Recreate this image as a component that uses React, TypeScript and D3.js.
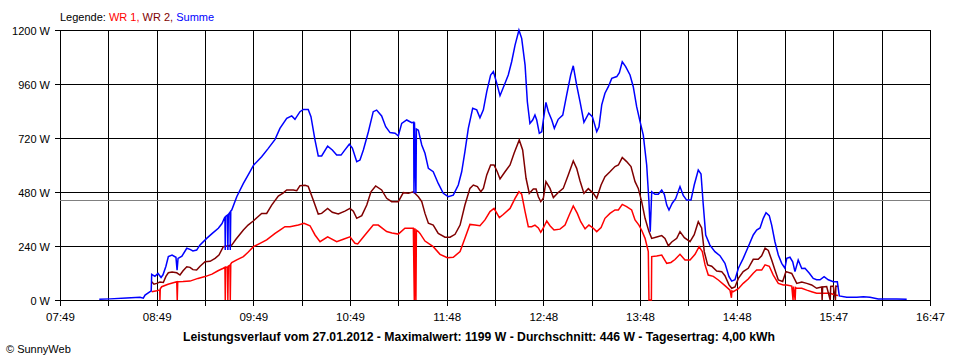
import React from 'react';
import * as d3 from 'd3';

// time in minutes since midnight, value in W
const START_MIN = 469; // 07:49
const END_MIN = 1007; // 16:47
const GRID_DIVISIONS = 18;
const xTickLabels = ['07:49', '08:49', '09:49', '10:49', '11:48', '12:48', '13:48', '14:48', '15:47', '16:47'];
const yTicks = [0, 240, 480, 720, 960, 1200];
const averageW = 446;
const titleText = 'Leistungsverlauf vom 27.01.2012 - Maximalwert: 1199 W - Durchschnitt: 446 W - Tagesertrag: 4,00 kWh';

const summe: [number, number][] = [
  [493.3, 3], [499.9, 5], [510.2, 9], [518.5, 12], [520.5, 8], [521.6, 22], [524.7, 37], [525.4, 40],
  [525.7, 114], [527.7, 105], [529.6, 118], [531.5, 100], [532.7, 112], [534.5, 150], [536, 193],
  [538.3, 200], [540.7, 190], [541.4, 133], [542, 185], [544.4, 195], [547.4, 230], [549.4, 225],
  [551.2, 218], [553.5, 222], [555.6, 245], [559.7, 274], [563, 295], [566.9, 319], [569.2, 340],
  [571, 370], [571.2, 222], [571.5, 372], [572.6, 378], [572.8, 222], [573.1, 380], [574.1, 390],
  [574.3, 222], [574.6, 395], [575.2, 400], [578.3, 459], [582.4, 518], [585.3, 555], [588.8, 600],
  [593.7, 637], [597.8, 674], [602, 714], [605, 763], [609.2, 807], [612.3, 818], [614.3, 803],
  [617.4, 837], [619.5, 847], [622.5, 847], [624.2, 815], [626.7, 711], [628.7, 640], [630.8, 640],
  [634.5, 684], [637.4, 667], [640.1, 644], [642.8, 644], [645.2, 667], [647.9, 692], [649.8, 675],
  [652.5, 615], [654.5, 622], [656.6, 667], [659.7, 748], [662.7, 837], [664.8, 844], [667.9, 818],
  [670.4, 770], [673.1, 744], [676.2, 741], [678.2, 729], [680.3, 785], [683.4, 800], [686.5, 788],
  [687.7, 790], [687.9, 474], [688.2, 790], [689.1, 474], [689.4, 760], [690.6, 755], [692.7, 689],
  [694.7, 652], [696.8, 585], [699.8, 570], [702.9, 518], [706, 474], [709.1, 459], [712.2, 466],
  [715.3, 511], [717.4, 570], [719.4, 659], [721.5, 763], [724.2, 852], [726.7, 845], [728.7, 810],
  [730.8, 845], [732.9, 926], [735.3, 1000], [737, 1015], [739.1, 963], [741.1, 908], [744.2, 963],
  [746.2, 1000], [748.3, 1059], [750.4, 1133], [752.8, 1199], [754.5, 1163], [756.6, 1044], [758, 881],
  [759.6, 785], [761.3, 800], [762.7, 822], [763.8, 800], [765.4, 741], [766.9, 748], [767.9, 800],
  [769.5, 878], [771, 837], [773.1, 800], [774.7, 763], [777.1, 803], [779.9, 822], [782.3, 911],
  [784.8, 1000], [786.4, 1041], [788.5, 955], [790.6, 881], [793, 790], [796, 830], [798.2, 815],
  [800.9, 748], [802.3, 770], [804, 867], [806, 919], [808.1, 948], [810.2, 985], [813.3, 993],
  [814.9, 1010], [816.7, 1059], [818.8, 1037], [821.5, 1000], [823.5, 948], [825.6, 859], [827.7, 793],
  [829.7, 733], [831.8, 600], [833.2, 437], [834, 304], [834.9, 481], [836.9, 470], [839, 470],
  [841.1, 489], [842.7, 470], [844.2, 422], [845.6, 400], [847.6, 430], [849.7, 450], [852.4, 504],
  [854.4, 465], [856.5, 444], [859.2, 444], [861.2, 511], [863.7, 578], [865.4, 560], [866.8, 422],
  [868.3, 289], [870.9, 244], [874, 215], [877.1, 197], [880.2, 163], [882.7, 104], [884.4, 84],
  [886.4, 90], [888.5, 141], [891.5, 185], [894.6, 237], [897.7, 289], [899.8, 311], [901.9, 320],
  [903.9, 363], [905.6, 388], [907.6, 375], [909.1, 333], [911.1, 259], [913.2, 200], [915.3, 163],
  [917.3, 141], [918.4, 185], [920.4, 190], [922.1, 170], [923.5, 126], [925.5, 178], [927.7, 140],
  [929.7, 141], [932.4, 119], [934.8, 96], [936.9, 90], [939, 90], [941.5, 104], [944.1, 90],
  [947.2, 81], [949.7, 81], [950.9, 18], [955.5, 12], [961.7, 12], [965.8, 14], [969.9, 12],
  [975, 4], [986.4, 4], [992.6, 3],
];

const wr2: [number, number][] = [
  [525.7, 81], [527.1, 70], [528.8, 74], [530.8, 80], [532.9, 78], [534.5, 105], [536, 121],
  [538.3, 124], [541.2, 121], [543.2, 111], [545.1, 130], [547.4, 148], [549.4, 145], [551.2, 135],
  [553.5, 133], [555.6, 150], [558.7, 170], [561.8, 172], [564.9, 185], [567.3, 200], [570, 237],
  [572.3, 240], [575.2, 244], [577.8, 270], [582.4, 311], [585.3, 333], [588.5, 351], [591.4, 370],
  [593.7, 385], [596.8, 385], [599.9, 422], [604, 462], [606.9, 475], [609.2, 489], [613.3, 489],
  [615.4, 486], [617.4, 508], [620.5, 510], [622.5, 505], [625.6, 444], [628.7, 382], [630.8, 385],
  [634.5, 407], [637.4, 390], [641.1, 382], [645.2, 395], [648.3, 407], [650.4, 395], [652.5, 363],
  [655.6, 375], [658.7, 422], [661.3, 481], [664.2, 507], [667.9, 489], [671, 452], [674.1, 437],
  [678.2, 437], [681.3, 477], [684.4, 474], [687.5, 481], [690.6, 459], [692.7, 437], [694.7, 385],
  [696.8, 341], [699.8, 333], [702.9, 296], [707.1, 279], [710.2, 279], [713.3, 292], [716.4, 333],
  [719.4, 422], [722.5, 496], [724.6, 511], [727.1, 504], [729.2, 481], [730.8, 496], [732.9, 556],
  [735.3, 600], [737.4, 600], [739.4, 570], [741.1, 538], [744.2, 570], [747.3, 600], [749.8, 652],
  [753, 711], [755.1, 667], [757.2, 541], [759.2, 474], [761.7, 493], [763.4, 493], [764.8, 459],
  [766.3, 437], [767.9, 452], [769.5, 526], [772, 496], [774.1, 455], [777.1, 478], [780.2, 496],
  [783.3, 556], [786.4, 618], [788.5, 585], [790.6, 529], [793, 474], [795.7, 495], [798.8, 474],
  [800.9, 452], [803.6, 511], [806, 548], [809.1, 570], [812.2, 593], [814.3, 600], [816.7, 633],
  [819.4, 615], [822.1, 593], [824.6, 526], [826.6, 496], [828.7, 437], [830.8, 363], [833.2, 304],
  [834.9, 274], [838, 280], [841.1, 286], [843.1, 274], [845.2, 241], [847.3, 258], [850.4, 274],
  [852.4, 304], [855.1, 277], [858.6, 259], [861.2, 290], [863.7, 348], [865.8, 320], [867.4, 215],
  [869.5, 156], [872, 150], [875.1, 129], [878.2, 126], [880.2, 108], [882.7, 67], [884.4, 52],
  [886.4, 58], [888.5, 96], [891.5, 126], [894.6, 141], [897.7, 181], [900.8, 181], [902.9, 196],
  [905, 230], [907, 220], [909.1, 178], [911.1, 133], [913.2, 89], [915.9, 82], [917.9, 126],
  [921.5, 118], [924.6, 74], [927.7, 80], [930.8, 74], [933.8, 67], [936.9, 52], [940, 58],
  [940.3, 0], [940.6, 58], [943.1, 60], [945.3, 0], [945.6, 60], [947.2, 62], [948.5, 0], [948.8, 62],
  [950.3, 60],
];

const wr1: [number, number][] = [
  [525.7, 37], [528.8, 41], [530.7, 45], [530.8, 0], [531, 50], [531.9, 59], [535.8, 70], [541.2, 81],
  [541.5, 0], [541.8, 81], [545.1, 82], [549.4, 84], [554.3, 96], [558.7, 104], [563, 115], [566.7, 130],
  [570, 141], [571, 145], [571.2, 0], [571.5, 145], [572.6, 147], [572.8, 0], [573.1, 150], [574.1, 155],
  [574.3, 0], [574.6, 160], [575.2, 166], [578.3, 178], [582.4, 193], [585.3, 212], [588.6, 237],
  [592.7, 252], [596.8, 267], [602, 296], [605, 311], [608.1, 326], [611.2, 326], [616.4, 333],
  [619.9, 341], [623.6, 330], [626.7, 289], [629.8, 259], [634.5, 281], [640.1, 259], [644.2, 270],
  [648.3, 281], [651.4, 252], [653.1, 249], [657.6, 289], [662.7, 333], [665.8, 333], [671, 304],
  [674.3, 298], [678.2, 293], [682.3, 319], [687.5, 319], [688.1, 0], [688.4, 319], [689.1, 0],
  [689.4, 310], [690.6, 304], [691.6, 296], [694.7, 262], [699.8, 237], [704, 203], [708.5, 188],
  [712.2, 190], [716.4, 215], [719.4, 274], [722.5, 336], [725.6, 333], [728.7, 330], [731.8, 356],
  [734.9, 393], [737.4, 407], [740.7, 366], [743.1, 380], [747.3, 407], [750.4, 452], [752.8, 481],
  [754.5, 470], [756.6, 393], [758.6, 326], [760.7, 326], [762.7, 333], [764.8, 320], [766.3, 301],
  [767.9, 320], [770, 351], [772, 330], [774.5, 311], [778.2, 315], [781.3, 333], [783.9, 378],
  [786.4, 418], [788.9, 385], [791, 348], [793.7, 316], [796.1, 333], [798.8, 319], [800.9, 304],
  [803.6, 322], [806, 363], [809.1, 385], [812.2, 400], [814.3, 400], [816.7, 425], [819.4, 415],
  [822.5, 400], [824.6, 356], [827, 333], [828.7, 310], [830.8, 274], [832.8, 215], [833.2, 0],
  [834.7, 0], [834.9, 193], [838, 196], [841.1, 200], [844.2, 163], [846.8, 167], [849.3, 180],
  [852.4, 203], [855.5, 178], [858.6, 178], [861.7, 203], [864.2, 237], [866.2, 215], [867.9, 156],
  [869.9, 111], [873, 105], [876.1, 89], [880.2, 64], [883.3, 44], [884.2, 10], [884.5, 40],
  [885.4, 37], [888.5, 50], [891.5, 74], [894.6, 93], [897.7, 119], [899.8, 133], [902.9, 133],
  [905, 156], [907.6, 150], [910.1, 111], [913.2, 74], [916.3, 67], [918.4, 67], [921.5, 62],
  [922.3, 0], [922.6, 60], [923.6, 0], [923.9, 55], [924.6, 52], [927.7, 52], [930.8, 44], [933.8, 37],
  [936.9, 30], [941, 30], [945.2, 30], [948.3, 22], [950.1, 20],
];

const W = 960;
const H = 360;
const LEFT = 60;
const RIGHT = 930;
const TOP = 30;
const BOTTOM = 300;
const FONT = "'Liberation Sans', Arial, sans-serif";

export default function App() {
  const x = d3.scaleLinear().domain([START_MIN, END_MIN]).range([LEFT, RIGHT]);
  const y = d3.scaleLinear().domain([0, 1200]).range([BOTTOM, TOP]);
  const line = d3
    .line<[number, number]>()
    .x((d) => x(d[0]))
    .y((d) => y(d[1]));

  const gridTimes = d3.range(GRID_DIVISIONS + 1).map(
    (i) => START_MIN + (i * (END_MIN - START_MIN)) / GRID_DIVISIONS
  );

  const series: { data: [number, number][]; color: string }[] = [
    { data: wr1, color: '#ff0000' },
    { data: wr2, color: '#800000' },
    { data: summe, color: '#0000ff' },
  ];

  return (
    <svg
      width={W}
      height={H}
      style={{ position: 'absolute', left: 0, top: 0, background: '#fff' }}
      fontFamily={FONT}
    >
      <rect x={0} y={0} width={W} height={H} fill="#fff" />
      {/* legend */}
      <text x={60} y={20.5} fontSize={11}>
        <tspan fill="#000">Legende: </tspan>
        <tspan fill="#ff0000">WR 1, </tspan>
        <tspan fill="#800000">WR 2, </tspan>
        <tspan fill="#0000ff">Summe</tspan>
      </text>

      {/* horizontal grid + y ticks */}
      {yTicks.map((v) => (
        <g key={'y' + v}>
          <line
            x1={LEFT - 5}
            x2={RIGHT}
            y1={Math.round(y(v)) + 0.5}
            y2={Math.round(y(v)) + 0.5}
            stroke="#000"
            strokeWidth={1}
          />
          <text
            x={50}
            y={Math.round(y(v)) + 4.5}
            fontSize={11}
            textAnchor="end"
            fill="#000"
          >
            {v} W
          </text>
        </g>
      ))}

      {/* vertical grid + x ticks */}
      {gridTimes.map((t, i) => (
        <line
          key={'x' + i}
          x1={Math.round(x(t)) + 0.5}
          x2={Math.round(x(t)) + 0.5}
          y1={TOP}
          y2={BOTTOM + 6}
          stroke="#000"
          strokeWidth={1}
        />
      ))}
      {xTickLabels.map((lab, i) => (
        <text
          key={'xl' + i}
          x={x(gridTimes[i * 2]) + 0.5}
          y={321}
          fontSize={11.5}
          textAnchor="middle"
          fill="#000"
        >
          {lab}
        </text>
      ))}

      {/* average line */}
      <line
        x1={LEFT}
        x2={RIGHT}
        y1={Math.round(y(averageW)) + 0.5}
        y2={Math.round(y(averageW)) + 0.5}
        stroke="#808080"
        strokeWidth={1}
      />

      {/* series */}
      {series.map((s, i) => (
        <path
          key={'s' + i}
          d={line(s.data) || ''}
          fill="none"
          stroke={s.color}
          strokeWidth={1.5}
          strokeLinejoin="miter"
        />
      ))}

      {/* title */}
      <text
        x={479}
        y={341}
        fontSize={12.3}
        fontWeight="bold"
        textAnchor="middle"
        fill="#000"
        textLength={592}
        lengthAdjust="spacingAndGlyphs"
      >
        {titleText}
      </text>
      <text x={6} y={353} fontSize={11} fill="#000">
        © SunnyWeb
      </text>
    </svg>
  );
}
